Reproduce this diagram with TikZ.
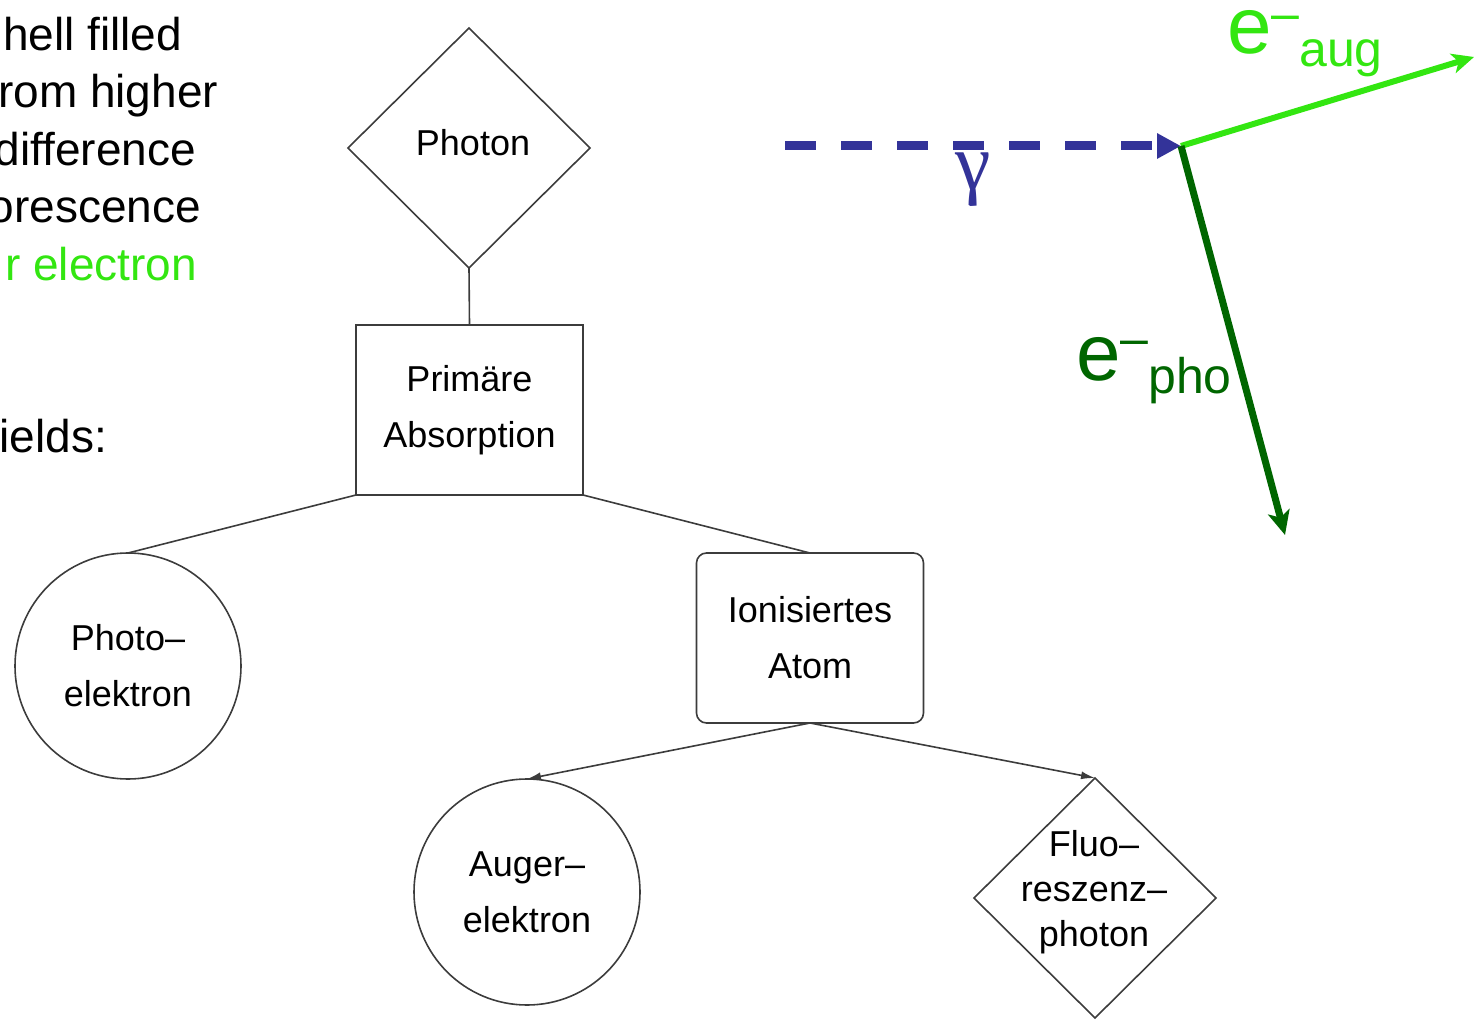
\documentclass[tikz,border=0pt]{standalone}
\usepackage{fontspec}
\setmainfont{Liberation Sans}
\newfontfamily\greekserif{Liberation Serif}
\usetikzlibrary{shapes.geometric,arrows.meta}
\definecolor{lgreen}{RGB}{51,230,17}
\definecolor{dgreen}{RGB}{0,102,0}
\definecolor{pblue}{RGB}{51,51,153}
\definecolor{edgecol}{RGB}{60,60,60}
\begin{document}
\begin{tikzpicture}[x=0.5pt,y=-0.5pt,
  every node/.style={inner sep=0pt, outer sep=0pt},
  lbl/.style={font=\fontsize{18}{28}\selectfont, align=center},
  side/.style={font=\fontsize{23}{23}\selectfont, anchor=base east},
  dia/.style={draw=edgecol, line width=0.8pt, shape=diamond, minimum width=121pt, minimum height=120pt},
  circ/.style={draw=edgecol, line width=0.8pt, shape=circle, minimum size=113pt, lbl},
  box/.style={draw=edgecol, line width=0.8pt, shape=rectangle, minimum width=113.5pt, minimum height=85pt, lbl},
  link/.style={draw=edgecol, line width=0.8pt},
  arr/.style={link, -{Latex[length=7pt,width=4pt]}}
]
\useasboundingbox (0,0) rectangle (1476,1020);

% left text (as visible in the picture)
\node[side] (t1) at (182,51) {hell filled};
\node[side] (t2) at (218,108) {rom higher};
\node[side] (t3) at (196,166) {difference};
\node[side] (t4) at (201,223) {orescence};
\node[side, text=lgreen] (t5) at (197,281) {r electron};
\node[side] (t6) at (107,453) {ields:};

% tree
\node[dia] (photon) at (469,148) {};
\node[lbl] (photontxt) at (473,143) {Photon};
\node[box] (prim) at (469.5,410) {Primäre\\Absorption};
\node[circ] (photoel) at (128,666) {Photo--\\elektron};
\node[box, rounded corners=5pt] (ion) at (810,638) {Ionisiertes\\Atom};
\node[circ] (auger) at (527,892) {Auger--\\elektron};
\node[dia] (fluo) at (1095,898) {};
\node[lbl, font=\fontsize{18}{22.5}\selectfont] (fluotxt) at (1094,892) {Fluo--\\reszenz--\\photon};

\draw[link] (photon.south) -- (prim.north);
\draw[link] (prim.south west) -- (photoel.north);
\draw[link] (prim.south east) -- (ion.north);
\draw[arr] (ion.south) -- (auger.north);
\draw[arr] (ion.south) -- (fluo.north);

% interaction sketch
\coordinate (gstart) at (785,146);
\coordinate (vtx) at (1181,146);
\coordinate (augend) at (1474,57);
\coordinate (phoend) at (1285,535);

\draw[pblue, line width=4.5pt, dash pattern=on 15.5pt off 12.5pt,
      -{Triangle[length=12pt,width=12pt]}] (gstart) -- (vtx);
\draw[lgreen, line width=3pt, -{Stealth[length=11pt,width=10pt,inset=3pt]}] (vtx) -- (augend);
\draw[dgreen, line width=3.5pt, -{Stealth[length=12pt,width=11pt,inset=3pt]}] (vtx) -- (phoend);

\node[text=pblue, font=\greekserif\fontsize{40}{40}\selectfont] (gam) at (973,180) {γ};
\node[text=lgreen, anchor=base west] (eaug) at (1227,54)
  {\fontsize{40}{40}\selectfont e\raisebox{11.5pt}{\fontsize{25}{25}\selectfont –}\raisebox{-6.5pt}{\fontsize{25}{25}\selectfont aug}};
\node[text=dgreen, anchor=base west] (epho) at (1076,381)
  {\fontsize{40}{40}\selectfont e\raisebox{12.5pt}{\fontsize{25}{25}\selectfont –}\raisebox{-6.5pt}{\fontsize{25}{25}\selectfont pho}};
\end{tikzpicture}
\end{document}
